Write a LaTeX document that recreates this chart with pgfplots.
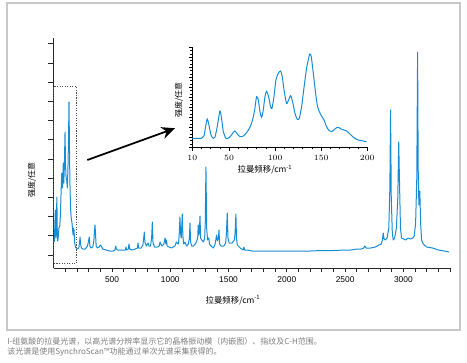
\documentclass[border=0pt]{standalone}
\usepackage{fontspec}
\setmainfont{Liberation Sans}
\newfontfamily\cjk{Noto Sans CJK SC}
\usepackage{pgfplots}
\pgfplotsset{compat=1.18}
\usetikzlibrary{arrows.meta}
\definecolor{spec}{RGB}{22,140,212}
\definecolor{framegray}{RGB}{200,200,200}
\definecolor{capgray}{RGB}{125,125,125}
\newcommand{\tfont}{\fontsize{6.3}{7.5}\selectfont}

\pgfplotstableread{
x y
0 26
6 27
10 45
14 58
17 38
20 30
24 55
27 71
30 40
34 27
38 30
45 40
52 42
58 55
64 80
69 95
74 80
79 92
82 105
86 85
91 100
97 136
101 105
106 90
111 88
117 80
122 100
127 130
131 166
135 120
139 85
144 60
150 50
157 45
162 38
166 33
170 40
174 38
180 25
186 21
195 20
205 19
215 20
222 26
226 31
230 24
238 20
250 19
270 19
290 22
300 28
305 31
310 22
320 20
335 21
345 28
350 38
354 43
358 35
364 22
375 20
390 21
400 23
408 22
420 19
450 18
480 17
510 17
525 18
532 22
537 19
550 18
600 18
615 18
620 21
625 18
640 19
646 24
652 19
670 18
700 19
718 20
723 25
728 20
750 20
765 23
772 30
777 36
782 26
795 22
805 24
811 25
817 22
830 22
840 30
846 46
852 25
865 21
890 21
905 22
912 26
918 24
930 22
945 24
952 28
956 30
962 24
968 28
973 22
990 21
1010 20
1040 22
1052 26
1058 25
1070 24
1076 32
1083 51
1088 35
1094 30
1098 40
1103 54
1108 32
1115 24
1125 26
1140 22
1155 24
1164 30
1169 45
1174 26
1185 22
1200 22
1220 25
1235 30
1240 43
1245 33
1250 38
1255 52
1260 30
1270 28
1285 26
1295 30
1300 45
1306 101
1312 40
1320 28
1326 30
1331 30
1336 24
1350 22
1370 20
1385 24
1393 30
1398 33
1404 27
1413 30
1418 38
1423 24
1435 22
1460 22
1475 25
1482 35
1489 55
1495 30
1505 25
1530 25
1550 28
1556 35
1563 54
1568 30
1575 23
1600 20
1625 18
1632 21
1638 18
1660 18
1700 17
1800 17
1900 17
2000 17
2100 17
2200 17
2300 17.5
2400 17.5
2500 18
2550 18
2600 19
2640 19
2660 20
2670 22
2680 20
2720 20
2760 21
2790 23
2810 24
2820 28
2827 35
2834 29
2845 28
2860 30
2875 40
2884 80
2890 158
2896 70
2905 35
2913 28
2925 30
2940 40
2952 70
2960 126
2966 90
2975 40
2984 30
3000 29
3020 28
3040 30
3060 29
3080 30
3093 32
3105 45
3115 90
3122 216
3127 100
3133 63
3141 77
3148 45
3156 28
3170 24
3199 21
3250 20
3300 18
3350 17
3393 16
}\mainspec

\pgfplotstableread{
x y
10.0 27
20.1 27
22.7 34
24.8 67
26.3 85
28.1 67
30.3 37
32.8 27
34.6 30
37.1 62
40.0 109
41.8 87
43.7 47
46.6 27
50.2 29
53.8 42
56.3 49
58.9 40
61.8 32
65.4 34
69.0 44
72.6 60
75.5 82
78.0 117
79.8 152
81.7 142
83.5 107
85.3 90
87.1 112
88.9 152
90.7 168
92.9 152
95.0 122
96.5 117
98.7 152
100.8 202
103.4 222
105.9 229
107.7 212
109.9 167
112.4 132
114.6 142
116.8 155
118.9 137
121.5 102
124.0 84
126.2 87
128.7 122
131.2 177
134.1 237
136.7 272
137.8 280
139.2 272
141.4 222
143.5 172
145.7 127
147.9 107
150.4 94
153.0 82
155.8 62
158.7 50
161.3 47
163.8 52
166.7 59
168.9 60
171.4 55
174.7 52
177.6 49
180.5 42
183.4 34
186.6 27
190.2 22
195.7 19
199.3 17
}\insetspec

\begin{document}
\begin{tikzpicture}
\useasboundingbox (0,0) rectangle (350.25pt,271.5pt);
\draw[framegray, line width=0.8pt] (5.25pt,24pt) rectangle (345pt,269.25pt);

\begin{axis}[
  at={(40.3pt,70.5pt)}, anchor=south west,
  scale only axis, width=297.2pt, height=172.5pt,
  xmin=0, xmax=3400, ymin=0, ymax=230,
  axis lines*=left,
  axis line style={line width=0.7pt, black!85},
  tick align=outside,
  xtick={100,200,...,3400},
  xticklabels={,,,,500,,,,,1000,,,,,1500,,,,,2000,,,,,2500,,,,,3000,,,,},
  ytick=\empty,
  minor ytick={0.2,6.6,...,230},
  extra y ticks={13,32.2,...,226},
  extra y tick labels={},
  extra y tick style={major tick length=4.5pt},
  major tick length=3pt, minor tick length=2.5pt,
  tick style={black!85, line width=0.6pt},
  xticklabel style={font=\tfont},
  clip=false,
]
\addplot[spec, line width=0.75pt, line join=round] table {\mainspec};
\draw[black!70, densely dotted, line width=0.9pt] (axis cs:0,4.7) rectangle (axis cs:197,181.3);
\end{axis}

\node[rotate=90, font=\cjk\fontsize{6}{7}\selectfont] at (24pt,136.5pt) {强度/任意};
\node[font=\cjk\fontsize{6.3}{7.5}\selectfont] at (174.75pt,46.5pt) {拉曼频移/cm\textsuperscript{-1}};

\begin{axis}[
  at={(144.2pt,161pt)}, anchor=south west,
  scale only axis, width=131.25pt, height=75.5pt,
  xmin=10, xmax=200, ymin=0, ymax=302,
  axis lines*=left,
  axis line style={line width=1.1pt, black},
  tick align=outside,
  xtick={10,50,100,150,200},
  minor xtick={10,20,...,200},
  ytick={0,30,...,300},
  yticklabels={},
  minor y tick num=2,
  major tick length=2.5pt, minor tick length=1.5pt,
  tick style={black, line width=0.5pt},
  xticklabel style={font=\tfont},
]
\addplot[spec, line width=0.75pt, smooth, tension=0.4] table {\insetspec};
\end{axis}

\node[rotate=90, font=\cjk\fontsize{6}{7}\selectfont] at (134.25pt,196.5pt) {强度/任意};
\node[font=\cjk\fontsize{6.3}{7.5}\selectfont] at (198.75pt,144.5pt) {拉曼频移/cm\textsuperscript{-1}};

\draw[line width=1.3pt, -{Stealth[length=10pt,width=9pt]}] (65.5pt,151.5pt) -- (131.25pt,175.3pt);

\node[anchor=west, capgray, font=\cjk\fontsize{6}{7}\selectfont, inner sep=0pt] at (5.25pt,15.75pt) {I-组氨酸的拉曼光谱，以高光谱分辨率显示它的晶格振动模（内嵌图）、指纹及C-H范围。};
\node[anchor=west, capgray, font=\cjk\fontsize{6}{7}\selectfont, inner sep=0pt] at (5.25pt,7.5pt) {该光谱是使用SynchroScan™功能通过单次光谱采集获得的。};
\end{tikzpicture}
\end{document}
